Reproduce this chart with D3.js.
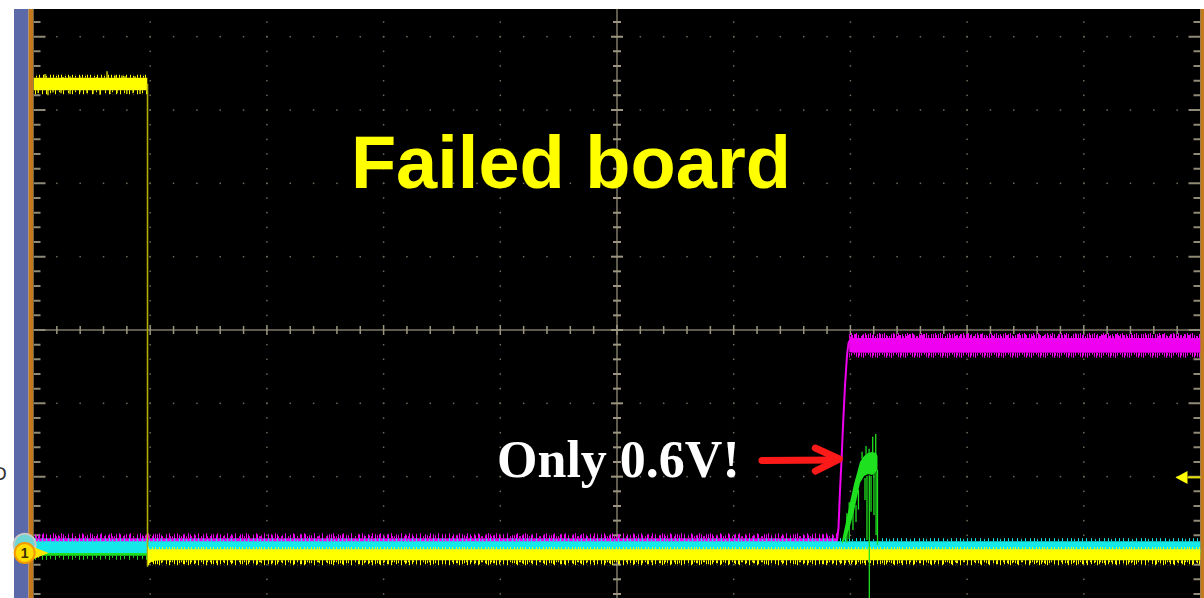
<!DOCTYPE html>
<html>
<head>
<meta charset="utf-8">
<script src="https://cdn.jsdelivr.net/npm/d3@7"></script>
<style>
  html, body { margin: 0; padding: 0; background: #fff; }
  svg { display: block; }
</style>
</head>
<body>
<svg id="scope" width="1204" height="598"></svg>
<script>
// Screen graticule, in divisions
const divX = [0, 1, 2, 3, 4, 5, 6, 7, 8, 9, 10];
const divY = [-4, -3, -2, -1, 0, 1, 2, 3, 4];

// Traces: [time (div), upper level (div), lower level (div)]
const ch1High  = [[0, 3.44, 3.27], [0.975, 3.44, 3.27]];
const ch1Edge  = [[0.977, 3.36], [0.977, -3.23]];
const ch1Low   = [[0.98, -2.99, -3.20], [1.02, -2.99, -3.15], [1.10, -2.99, -3.14], [10, -2.99, -3.14]];
const ch2Base  = [[0, -2.88, -3.04], [10, -2.88, -3.04]];                 // cyan
const ch3Low   = [[0, -2.84, -2.91], [6.887, -2.84, -2.91]];              // magenta before the edge
const ch3Edge  = [[6.885, -2.877], [6.898, -2.700], [6.911, -2.182], [6.924, -1.773],
                  [6.937, -1.296], [6.954, -0.750], [6.971, -0.341], [6.984, -0.177], [6.997, -0.136]];
const ch3High  = [[6.99, -0.08, -0.30], [7.02, -0.11, -0.31], [10, -0.11, -0.31]];
const ch4Base  = [[0, -3.00, -3.08], [10, -3.00, -3.08]];                 // green
const ch4Burst = [[6.928, -2.877, -2.918], [6.962, -2.618, -2.837], [6.997, -2.346, -2.673],
                  [7.031, -2.100, -2.468], [7.057, -1.950, -2.277], [7.082, -1.800, -2.086],
                  [7.117, -1.718, -1.991], [7.151, -1.677, -1.964], [7.185, -1.664, -1.977],
                  [7.220, -1.677, -1.936], [7.232, -1.718, -1.909]];
// Glitches on the green burst: [time, from level, to level]
const ch4Spikes = [[6.97, -2.50, -2.90], [6.99, -2.35, -2.85], [7.022, -2.30, -2.727],
                   [7.048, -2.39, -2.62], [7.069, -2.18, -2.45], [7.125, -2.02, -2.32],
                   [7.142, -1.99, -2.864], [7.162, -1.98, -3.70], [7.177, -1.99, -2.48],
                   [7.202, -1.95, -2.523], [7.220, -1.94, -2.796], [7.232, -1.91, -2.932],
                   [7.134, -1.70, -1.582], [7.191, -1.70, -1.455], [7.217, -1.70, -1.418],
                   [7.100, -1.76, -1.66], [7.160, -1.70, -1.62]];
// Glitches on the yellow high level: [time, level]
const ch1HighSpikes = [[0.099, 3.49], [0.253, 3.45], [0.313, 3.46], [0.398, 3.46], [0.544, 3.45],
                       [0.630, 3.53], [0.698, 3.47], [0.758, 3.47], [0.784, 3.46], [0.870, 3.46],
                       [0.040, 3.23], [0.124, 3.20], [0.167, 3.24], [0.236, 3.23], [0.313, 3.22],
                       [0.398, 3.24], [0.458, 3.23], [0.510, 3.22], [0.570, 3.21], [0.655, 3.22],
                       [0.716, 3.23], [0.800, 3.22], [0.853, 3.23], [0.913, 3.22]];

// Trigger level and channel ground references
const triggerLevel = -2.01;
const ch1Ground = -3.04;
const ch2Ground = -2.93;

// Annotations
const title = { text: "Failed board", t: 2.72, v: 1.93 };
const note  = { text: "Only 0.6V!", t: 3.972, v: -2.005 };
const arrow = { t0: 6.242, t1: 6.905, v: -1.76 };

// ---------------------------------------------------------------
const svg = d3.select("#scope");
const W = 1204, H = 598;
const viewTop = 9;

const x = d3.scaleLinear().domain([0, 10]).range([33.5, 1200.5]);
const y = d3.scaleLinear().domain([-4, 4]).range([623.3, 36.7]);

const defs = svg.append("defs");
defs.append("clipPath").attr("id", "screen")
  .append("rect").attr("x", x(0)).attr("y", viewTop)
  .attr("width", x(10) - x(0)).attr("height", H - viewTop);

// Frame: white margin, blue side bar, orange bezel lines, black screen
svg.append("rect").attr("width", W).attr("height", H).attr("fill", "#fff");
svg.append("rect").attr("x", 14).attr("y", viewTop).attr("width", 14.5).attr("height", H - viewTop).attr("fill", "#5b69a8");
svg.append("rect").attr("x", 28.5).attr("y", viewTop).attr("width", 5).attr("height", H - viewTop).attr("fill", "#c27a1c");
svg.append("rect").attr("x", x(0)).attr("y", viewTop).attr("width", x(10) - x(0)).attr("height", H - viewTop).attr("fill", "#000");
svg.append("rect").attr("x", x(10)).attr("y", viewTop).attr("width", W - x(10)).attr("height", H - viewTop).attr("fill", "#c27a1c");
svg.append("text").attr("x", -7).attr("y", 480).attr("font-family", "DejaVu Sans, sans-serif")
  .attr("font-size", 18).attr("fill", "#333").text("D");

const scr = svg.append("g").attr("clip-path", "url(#screen)");

// Graticule
const grid = scr.append("g");
const minorY = d3.range(-20, 24).map(i => i * 0.2);
const minorX = d3.range(1, 50).map(i => i * 0.2);
const dotCol = "#6f6a58";
divX.filter(d => d > 0 && d < 10 && d !== 5).forEach(t => {
  minorY.forEach(v => grid.append("rect").attr("x", x(t) - 0.75).attr("y", y(v) - 0.75)
    .attr("width", 1.5).attr("height", 1.5).attr("fill", dotCol));
});
divY.filter(d => d !== 0).forEach(v => {
  minorX.forEach(t => grid.append("rect").attr("x", x(t) - 0.75).attr("y", y(v) - 0.75)
    .attr("width", 1.5).attr("height", 1.5).attr("fill", dotCol));
});
// center cross
grid.append("line").attr("x1", x(5)).attr("x2", x(5)).attr("y1", viewTop).attr("y2", H)
  .attr("stroke", "#7f7a66").attr("stroke-width", 1.5);
grid.append("line").attr("x1", x(0)).attr("x2", x(10)).attr("y1", y(0)).attr("y2", y(0))
  .attr("stroke", "#7f7a66").attr("stroke-width", 1.5);
const isMajor = v => Math.abs(v - Math.round(v)) < 1e-6;
minorY.forEach(v => {
  const h = isMajor(v) ? 6 : 4;
  grid.append("line").attr("x1", x(5) - h).attr("x2", x(5) + h).attr("y1", y(v)).attr("y2", y(v))
    .attr("stroke", "#9c9680").attr("stroke-width", 2);
  // edge ticks, left and right
  const e = isMajor(v) ? 12 : 7;
  grid.append("line").attr("x1", x(0)).attr("x2", x(0) + e).attr("y1", y(v)).attr("y2", y(v))
    .attr("stroke", "#8f8a76").attr("stroke-width", 2);
  grid.append("line").attr("x1", x(10) - e).attr("x2", x(10)).attr("y1", y(v)).attr("y2", y(v))
    .attr("stroke", "#8f8a76").attr("stroke-width", 2);
});
minorX.forEach(t => {
  const h = isMajor(t) ? 5 : 4;
  grid.append("line").attr("x1", x(t)).attr("x2", x(t)).attr("y1", y(0) - h).attr("y2", y(0) + h)
    .attr("stroke", "#9c9680").attr("stroke-width", 1.5);
});

// Noise fringe textures along flat trace edges
const teethA = [[0,3],[3,5],[7,2],[10,4],[14,6],[17,2],[21,3],[24,5],[27,2]];
const teethB = [[1,2],[5,4],[9,7],[13,3],[18,5],[22,2],[26,4],[31,3],[35,6]];
const teethM = [[0,4],[2,5],[4,3],[7,2],[9,4],[11,5],[12,3]];
let pid = 0;
function fringe(g, t0, t1, edgeV, up, color, teeth, period, depth) {
  const id = "fr" + (pid++);
  const D = depth || 7;
  const ey = y(edgeV);
  const top = up ? ey - D : ey;
  const p = defs.append("pattern").attr("id", id).attr("patternUnits", "userSpaceOnUse")
    .attr("x", 0).attr("y", top).attr("width", period).attr("height", D);
  teeth.forEach(([o, l]) => {
    const len = Math.min(l, D);
    p.append("rect").attr("x", o).attr("width", 1).attr("y", up ? D - len : 0).attr("height", len).attr("fill", color);
  });
  g.append("rect").attr("x", x(t0)).attr("y", top).attr("width", x(t1) - x(t0)).attr("height", D)
    .attr("fill", `url(#${id})`);
}
const area = d3.area().x(d => x(d[0])).y0(d => y(d[2])).y1(d => y(d[1]));
const line = d3.line().x(d => x(d[0])).y(d => y(d[1]));

const traces = scr.append("g");
const YEL = "#ffff00", CYA = "#14e8e8", MAG = "#f000f0", GRN = "#1fe01f";

// green baseline
traces.append("path").datum(ch4Base).attr("d", area).attr("fill", GRN);
fringe(traces, 0, 10, -3.08, false, GRN, teethB, 37, 4);
// magenta low
traces.append("path").datum(ch3Low).attr("d", area).attr("fill", MAG);
fringe(traces, 0, 6.885, -2.84, true, MAG, teethA, 29, 5);
fringe(traces, 0, 6.885, -2.84, true, MAG, teethB, 37, 4);
// cyan
traces.append("path").datum(ch2Base).attr("d", area).attr("fill", CYA);
fringe(traces, 0, 10, -2.88, true, CYA, teethB, 37, 3);
// magenta edge and high level
traces.append("path").datum(ch3Edge).attr("d", line).attr("fill", "none").attr("stroke", MAG).attr("stroke-width", 2);
traces.append("path").datum(ch3High).attr("d", area).attr("fill", MAG);
fringe(traces, 6.99, 10, -0.11, true, MAG, teethM, 14, 5);
fringe(traces, 6.99, 10, -0.31, false, MAG, teethM.map(([o, l]) => [(o + 7) % 14, l]), 14, 5);
fringe(traces, 6.99, 10, -0.11, true, MAG, teethA, 29, 4);
// yellow
traces.append("path").datum(ch1High).attr("d", area).attr("fill", YEL);
fringe(traces, 0, 0.975, 3.44, true, YEL, teethA, 29, 3);
fringe(traces, 0, 0.975, 3.27, false, YEL, teethB, 37, 4);
ch1HighSpikes.forEach(([t, v]) => {
  traces.append("line").attr("x1", x(t)).attr("x2", x(t)).attr("y1", y(3.36)).attr("y2", y(v))
    .attr("stroke", YEL).attr("stroke-width", 1.2);
});
traces.append("path").datum(ch1Edge).attr("d", line).attr("fill", "none").attr("stroke", "#b2b000").attr("stroke-width", 1.6);
traces.append("path").datum(ch1Low).attr("d", area).attr("fill", YEL);
fringe(traces, 0.98, 10, -3.14, false, YEL, teethA, 29, 5);
fringe(traces, 0.98, 10, -3.14, false, YEL, teethB, 37, 4);
fringe(traces, 0.98, 10, -2.99, true, YEL, teethA, 29, 2);
// green burst and its glitches
traces.append("path").datum(ch4Burst).attr("d", area).attr("fill", GRN);
ch4Spikes.forEach(([t, a, b]) => {
  traces.append("line").attr("x1", x(t)).attr("x2", x(t)).attr("y1", y(a)).attr("y2", y(b))
    .attr("stroke", GRN).attr("stroke-width", 1.3);
});

// Trigger level marker at right edge
const ty = y(triggerLevel);
svg.append("line").attr("x1", x(10) - 13).attr("x2", x(10)).attr("y1", ty).attr("y2", ty)
  .attr("stroke", "#e6e200").attr("stroke-width", 2);
svg.append("path").attr("d", `M${x(10) - 25},${ty} L${x(10) - 13},${ty - 6.5} L${x(10) - 13},${ty + 6.5} Z`).attr("fill", YEL);

// Channel markers at left edge
const cy2 = y(ch2Ground), cy1 = y(ch1Ground);
svg.append("circle").attr("cx", 24.7).attr("cy", cy2).attr("r", 11).attr("fill", "#6fd6d6")
  .attr("stroke", "#c4c9c6").attr("stroke-width", 2);
svg.append("path").attr("d", `M${x(0)},${cy1 - 6} L${x(0) + 15},${cy1} L${x(0)},${cy1 + 6} Z`).attr("fill", "#ffe600");
svg.append("circle").attr("cx", 24.7).attr("cy", cy1).attr("r", 10).attr("fill", "#ffdd00")
  .attr("stroke", "#f39a00").attr("stroke-width", 2);
svg.append("text").attr("x", 24.7).attr("y", cy1 + 5).attr("text-anchor", "middle")
  .attr("font-family", "Liberation Sans, Arial, sans-serif").attr("font-weight", "bold")
  .attr("font-size", 14).attr("fill", "#3a3000").text("1");

// Annotations
svg.append("text").attr("x", x(title.t)).attr("y", y(title.v))
  .attr("font-family", "Liberation Sans, Arial, sans-serif").attr("font-weight", "bold")
  .attr("font-size", 74).attr("fill", "#ffff00").text(title.text);
svg.append("text").attr("x", x(note.t)).attr("y", y(note.v))
  .attr("font-family", "Liberation Serif, Times New Roman, serif").attr("font-weight", "bold")
  .attr("font-size", 52).attr("fill", "#ffffff").text(note.text);
const ay = y(arrow.v), ax0 = x(arrow.t0), ax1 = x(arrow.t1);
svg.append("line").attr("x1", ax0).attr("x2", ax1 - 4).attr("y1", ay + 1.5).attr("y2", ay + 1)
  .attr("stroke", "#ff1a1a").attr("stroke-width", 7).attr("stroke-linecap", "round");
svg.append("path").attr("d", `M${ax1 - 24},${ay - 11} L${ax1},${ay} L${ax1 - 24},${ay + 12}`)
  .attr("fill", "none").attr("stroke", "#ff1a1a").attr("stroke-width", 7)
  .attr("stroke-linecap", "round").attr("stroke-linejoin", "round");
</script>
</body>
</html>
